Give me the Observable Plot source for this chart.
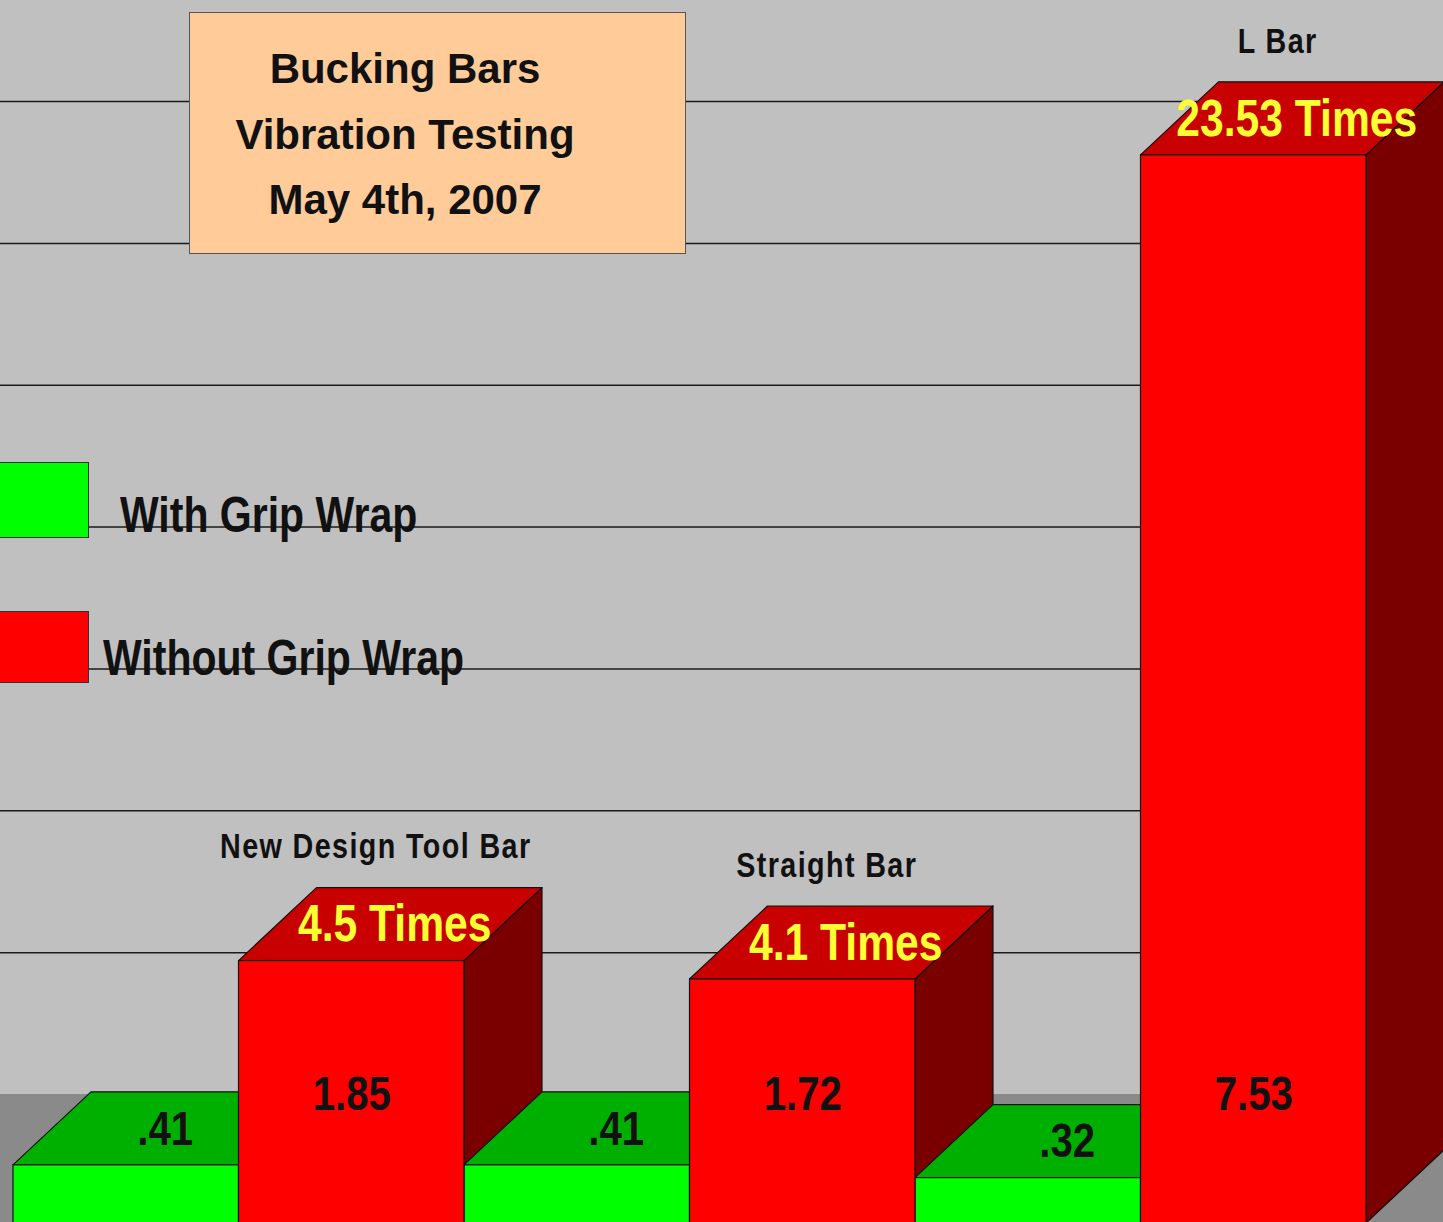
<!DOCTYPE html>
<html>
<head>
<meta charset="utf-8">
<script src="https://cdn.jsdelivr.net/npm/d3@7"></script>
<script src="https://cdn.jsdelivr.net/npm/@observablehq/plot@0.6"></script>
<style>
  html, body { margin: 0; padding: 0; background: #c0c0c0; overflow: hidden; }
  #wrap { position: relative; width: 1443px; height: 1222px; overflow: hidden; background: #c0c0c0; }
  #chart { position: absolute; left: 0; top: 0; }
  #titlebox {
    position: absolute; left: 189px; top: 12px; width: 495px; height: 240px;
    background: #ffcc99; border: 1.5px solid #555; box-sizing: content-box;
  }
  #titlebox div {
    position: absolute; left: 0; width: 430px; text-align: center;
    font: bold 42px "Liberation Sans", Arial, sans-serif; line-height: 50px; color: #111; white-space: nowrap;
  }
  .swatch { position: absolute; left: -12px; width: 101px; border: 1.5px solid #333; box-sizing: border-box; }
  .legtext {
    position: absolute; font: bold 50px "Liberation Sans", Arial, sans-serif;
    line-height: 50px; color: #111; white-space: nowrap;
    transform: scaleX(0.82); transform-origin: 0 50%;
  }
  g[font-size="35"] { letter-spacing: 1.7px; }
</style>
</head>
<body>
<div id="wrap">
  <div id="chart"></div>
  <div id="titlebox"></div>
  <div id="legend"></div>
</div>
<script>
// ---- data ----
const categories = ["New Design Tool Bar", "Straight Bar", "L Bar"];
const seriesNames = ["With Grip Wrap", "Without Grip Wrap"];
const withWrap = [0.41, 0.41, 0.32];
const withoutWrap = [1.85, 1.72, 7.53];
const withLabels = [".41", ".41", ".32"];
const withoutLabels = ["1.85", "1.72", "7.53"];
const ratioLabels = ["4.5 Times", "4.1 Times", "23.53 Times"];
const gridValues = [1, 2, 3, 4, 5, 6, 7];
const titleLines = ["Bucking Bars", "Vibration Testing", "May 4th, 2007"];

// ---- 3-D projection constants (data units) ----
const PX_PER_X = 225.5, PX_PER_Y = 141.85;
const DX = 78 / PX_PER_X;     // bar depth, horizontal
const DY = 73 / PX_PER_Y;     // bar depth, vertical
const WALL = 129 / PX_PER_Y;  // back wall offset
const xDomain = [-13 / PX_PER_X, 1430 / PX_PER_X];
const yDomain = [1 / PX_PER_Y, 1223 / PX_PER_Y];

const FONT = "'Liberation Sans', Arial, sans-serif";
const colors = {
  front: ["#00ff00", "#ff0000"],
  top: ["#00b000", "#c80000"],
  side: ["#006400", "#7a0000"]
};

const bars = [];
categories.forEach((c, i) => {
  [withWrap[i], withoutWrap[i]].forEach((v, s) => {
    bars.push({cat: c, i, s, x0: 2 * i + s, x1: 2 * i + s + 1, v});
  });
});
const sidePts = bars.flatMap((b, k) => [
  {k, s: b.s, x: b.x1, y1: 0, y2: b.v},
  {k, s: b.s, x: b.x1 + DX, y1: DY, y2: b.v + DY}
]);
const topPts = bars.flatMap((b, k) => [
  {k, s: b.s, y: b.v, x1: b.x0, x2: b.x1},
  {k, s: b.s, y: b.v + DY, x1: b.x0 + DX, x2: b.x1 + DX}
]);

const edge = {stroke: "#111", strokeWidth: 1.2};
const marks = [
  // floor
  Plot.rect([0], {x1: () => xDomain[0], x2: () => xDomain[1], y1: () => yDomain[0], y2: () => WALL, fill: "#8a8a8a"}),
  // back-wall grid lines
  Plot.ruleY(gridValues, {y: d => d + WALL, stroke: "#1a1a1a", strokeWidth: 1.5})
];
for (const s of [0, 1]) marks.push(Plot.areaY(sidePts.filter(d => d.s === s), {x: "x", y1: "y1", y2: "y2", z: "k", fill: colors.side[s], ...edge}));
for (const s of [0, 1]) marks.push(Plot.areaX(topPts.filter(d => d.s === s), {y: "y", x1: "x1", x2: "x2", z: "k", fill: colors.top[s], ...edge}));
for (const s of [0, 1]) marks.push(Plot.rect(bars.filter(d => d.s === s), {x1: "x0", x2: "x1", y1: () => 0, y2: "v", fill: colors.front[s], ...edge}));

// ratio labels on red tops
marks.push(Plot.text(categories, {
  x: (d, i) => 2 * i + 1.5 + DX / 2, y: (d, i) => withoutWrap[i] + DY / 2, dx: 4,
  text: (d, i) => ratioLabels[i], fill: "#ffff33", fontSize: 52, fontWeight: "bold", fontFamily: FONT
}));
// green values on green tops
marks.push(Plot.text(categories, {
  x: (d, i) => 2 * i + 0.5 + DX / 2, y: (d, i) => withWrap[i] + DY / 2,
  text: (d, i) => withLabels[i], fill: "#111", fontSize: 49, fontWeight: "bold", fontFamily: FONT
}));
// red values near bar base
marks.push(Plot.text(categories, {
  x: (d, i) => 2 * i + 1.5, frameAnchor: "bottom", lineAnchor: "middle", dy: -128,
  text: (d, i) => withoutLabels[i], fill: "#111", fontSize: 49, fontWeight: "bold", fontFamily: FONT
}));
// category labels above bars
marks.push(Plot.text(categories, {
  x: (d, i) => 2 * i + 1.5, y: (d, i) => withoutWrap[i] + DY, dx: 24, dy: -41,
  text: d => d, fill: "#111", fontSize: 35, fontWeight: "bold", fontFamily: FONT
}));

const chart = Plot.plot({
  width: 1443, height: 1222,
  marginLeft: 0, marginRight: 0, marginTop: 0, marginBottom: 0,
  x: {type: "linear", domain: xDomain, axis: null},
  y: {type: "linear", domain: yDomain, axis: null},
  style: {background: "#c0c0c0"},
  marks
});
document.getElementById("chart").append(chart);

// narrow (condensed) look for chart labels: compress glyphs to 82% of their natural length
chart.querySelectorAll('g[font-size="52"] text, g[font-size="49"] text, g[font-size="35"] text').forEach(t => {
  const L = t.getComputedTextLength();
  if (L > 0) {
    t.setAttribute("textLength", (L * 0.82).toFixed(1));
    t.setAttribute("lengthAdjust", "spacingAndGlyphs");
  }
});

// title box
const tb = document.getElementById("titlebox");
titleLines.forEach((t, i) => {
  const d = document.createElement("div");
  d.textContent = t;
  d.style.top = (31 + i * 65.5) + "px";
  tb.append(d);
});

// legend
const lg = document.getElementById("legend");
const legSpecs = [{top: 462, h: 76, textTop: 490, left: 120}, {top: 611, h: 72, textTop: 633, left: 103}];
seriesNames.forEach((name, s) => {
  const sw = document.createElement("div");
  sw.className = "swatch";
  sw.style.top = legSpecs[s].top + "px";
  sw.style.height = legSpecs[s].h + "px";
  sw.style.background = colors.front[s];
  lg.append(sw);
  const t = document.createElement("div");
  t.className = "legtext";
  t.textContent = name;
  t.style.top = legSpecs[s].textTop + "px";
  t.style.left = legSpecs[s].left + "px";
  lg.append(t);
});
</script>
</body>
</html>
